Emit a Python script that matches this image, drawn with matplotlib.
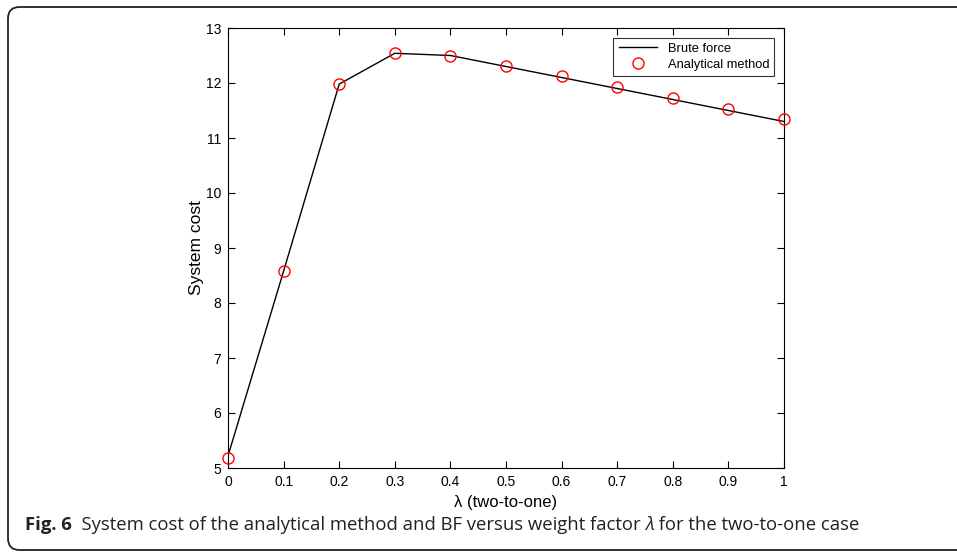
import numpy as np
import matplotlib
matplotlib.use("Agg")
import matplotlib.pyplot as plt
from matplotlib.patches import FancyBboxPatch

# weight factor lambda
lam = [0, 0.1, 0.2, 0.3, 0.4, 0.5, 0.6, 0.7, 0.8, 0.9, 1.0]
# brute force search
brute = [5.22, 8.58, 11.98, 12.54, 12.50, 12.30, 12.10, 11.90, 11.70, 11.50, 11.30]
# closed form result
analytic = [5.19, 8.58, 11.98, 12.55, 12.50, 12.31, 12.12, 11.92, 11.73, 11.53, 11.34]

xticks = [0, 0.1, 0.2, 0.3, 0.4, 0.5, 0.6, 0.7, 0.8, 0.9, 1]
xticklabels = ['0', '0.1', '0.2', '0.3', '0.4', '0.5', '0.6', '0.7', '0.8', '0.9', '1']
yticks = [5, 6, 7, 8, 9, 10, 11, 12, 13]

plt.rcParams['font.family'] = ['Liberation Sans', 'DejaVu Sans']

fig = plt.figure(figsize=(9.57, 5.52), dpi=100)

# rounded frame around figure + caption
frame = FancyBboxPatch((8/957, 2/552), 1.2, (545-2)/552,
                       boxstyle="round,pad=0,rounding_size=0.012",
                       transform=fig.transFigure, fill=False,
                       edgecolor='#222222', linewidth=1.3, mutation_aspect=957/552)
fig.patches.append(frame)

ax = fig.add_axes([228/957, 1-468/552, (784-228)/957, (468-28)/552])
ax.plot(lam, brute, color='black', linewidth=1.0, label='Brute force')
ax.plot(lam, analytic, linestyle='none', marker='o', markersize=8,
        markerfacecolor='none', markeredgecolor='red', markeredgewidth=1.0,
        label='Analytical method', clip_on=False, zorder=5)

ax.set_xlim(0, 1)
ax.set_ylim(5, 13)
ax.set_xticks(xticks)
ax.set_xticklabels(xticklabels)
ax.set_yticks(yticks)
ax.tick_params(direction='in', length=5, width=0.8, top=True, right=True,
               labelsize=10, pad=5)
for s in ax.spines.values():
    s.set_linewidth(0.8)

ax.set_xlabel('λ (two-to-one)', fontsize=12, labelpad=4)
ax.set_ylabel('System cost', fontsize=12.5, labelpad=1)

leg = ax.legend(loc='upper right', fontsize=9.3, fancybox=False, framealpha=1,
                edgecolor='#333333', borderaxespad=0.75, handlelength=3.0,
                borderpad=0.4, labelspacing=0.3, handletextpad=0.8)
leg.get_frame().set_linewidth(0.8)

# caption pieces placed one after another
fig.canvas.draw()
r = fig.canvas.get_renderer()
cap_y = 1 - 525/552
x = 25/957
pieces = [('Fig. 6', 'bold', 'normal'),
          ('  System cost of the analytical method and BF versus weight factor ', 'normal', 'normal'),
          ('λ', 'normal', 'italic'),
          (' for the two-to-one case', 'normal', 'normal')]
for txt, wt, st in pieces:
    t = fig.text(x, cap_y, txt, fontsize=13.3, fontweight=wt, fontstyle=st,
                 family=['Open Sans', 'DejaVu Sans'], va='center', ha='left',
                 color='#222222')
    bb = t.get_window_extent(r)
    x += bb.width / fig.bbox.width

fig.savefig('out.png', dpi=100)
